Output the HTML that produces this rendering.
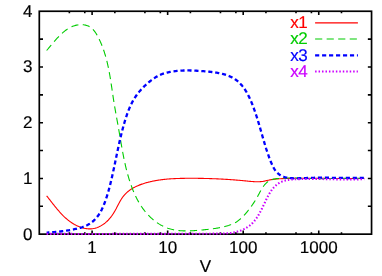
<!DOCTYPE html>
<html>
<head>
<meta charset="utf-8">
<title>chart</title>
<style>
html,body{margin:0;padding:0;background:#ffffff;}
body{width:382px;height:276px;overflow:hidden;}
svg{display:block;will-change:transform;}
text{text-rendering:geometricPrecision;stroke:#000;font-family:"Liberation Sans",sans-serif;font-size:17px;fill:#000;stroke-width:0.18px;}
</style>
</head>
<body>
<svg width="382" height="276" viewBox="0 0 382 276">
<rect x="0" y="0" width="382" height="276" fill="#ffffff"/>
<rect x="39.3" y="11.25" width="332.25" height="222.90" fill="none" stroke="#000" stroke-width="1.7"/>
<path d="M69.36,234.15 v-1.9 M69.36,11.25 v1.9 M84.78,234.15 v-1.9 M84.78,11.25 v1.9 M92.10,234.15 v-3.7 M92.10,11.25 v3.7 M114.85,234.15 v-1.9 M114.85,11.25 v1.9 M144.91,234.15 v-1.9 M144.91,11.25 v1.9 M160.33,234.15 v-1.9 M160.33,11.25 v1.9 M167.65,234.15 v-3.7 M167.65,11.25 v3.7 M190.39,234.15 v-1.9 M190.39,11.25 v1.9 M220.46,234.15 v-1.9 M220.46,11.25 v1.9 M235.88,234.15 v-1.9 M235.88,11.25 v1.9 M243.20,234.15 v-3.7 M243.20,11.25 v3.7 M265.94,234.15 v-1.9 M265.94,11.25 v1.9 M296.00,234.15 v-1.9 M296.00,11.25 v1.9 M311.42,234.15 v-1.9 M311.42,11.25 v1.9 M318.75,234.15 v-3.7 M318.75,11.25 v3.7 M341.49,234.15 v-1.9 M341.49,11.25 v1.9 M39.3,206.29 h3.7 M371.55,206.29 h-3.7 M39.3,178.43 h3.7 M371.55,178.43 h-3.7 M39.3,150.56 h3.7 M371.55,150.56 h-3.7 M39.3,122.70 h3.7 M371.55,122.70 h-3.7 M39.3,94.84 h3.7 M371.55,94.84 h-3.7 M39.3,66.97 h3.7 M371.55,66.97 h-3.7 M39.3,39.11 h3.7 M371.55,39.11 h-3.7" fill="none" stroke="#000" stroke-width="1.6"/>
<path d="M46.63,195.84 L47.06,196.37 L47.49,196.91 L47.92,197.46 L48.35,198.00 L48.78,198.55 L49.21,199.10 L49.64,199.65 L50.07,200.20 L50.50,200.76 L50.93,201.31 L51.37,201.87 L51.80,202.42 L52.23,202.98 L52.67,203.54 L53.11,204.09 L53.55,204.65 L53.99,205.21 L54.43,205.76 L54.88,206.31 L55.32,206.87 L55.77,207.42 L56.22,207.97 L56.67,208.51 L57.13,209.06 L57.59,209.60 L58.05,210.14 L58.51,210.68 L58.98,211.22 L59.45,211.75 L59.92,212.27 L60.40,212.80 L60.88,213.32 L61.36,213.83 L61.85,214.35 L62.34,214.85 L62.83,215.36 L63.33,215.85 L63.83,216.35 L64.34,216.83 L64.85,217.31 L65.37,217.79 L65.89,218.26 L66.42,218.72 L66.95,219.17 L67.48,219.62 L68.02,220.06 L68.57,220.50 L69.12,220.93 L69.68,221.35 L70.24,221.76 L70.81,222.16 L71.39,222.55 L71.97,222.94 L72.56,223.32 L73.15,223.69 L73.75,224.05 L74.36,224.40 L74.97,224.73 L75.59,225.06 L76.22,225.38 L76.85,225.69 L77.49,225.99 L78.14,226.28 L78.80,226.56 L79.46,226.82 L80.13,227.07 L80.81,227.31 L81.49,227.54 L82.17,227.75 L82.86,227.94 L83.55,228.12 L84.25,228.28 L84.95,228.43 L85.65,228.56 L86.35,228.66 L87.05,228.75 L87.76,228.82 L88.46,228.87 L89.16,228.90 L89.87,228.90 L90.57,228.89 L91.26,228.85 L91.96,228.78 L92.65,228.69 L93.34,228.58 L94.03,228.44 L94.71,228.29 L95.39,228.11 L96.06,227.91 L96.72,227.69 L97.38,227.45 L98.04,227.19 L98.69,226.92 L99.33,226.62 L99.96,226.31 L100.58,225.98 L101.20,225.64 L101.81,225.28 L102.41,224.91 L103.00,224.52 L103.58,224.12 L104.15,223.71 L104.71,223.29 L105.26,222.85 L105.79,222.40 L106.32,221.94 L106.84,221.48 L107.34,221.00 L107.84,220.51 L108.32,220.01 L108.80,219.50 L109.26,218.99 L109.72,218.46 L110.17,217.93 L110.61,217.38 L111.04,216.83 L111.46,216.27 L111.87,215.71 L112.28,215.13 L112.68,214.55 L113.07,213.96 L113.45,213.37 L113.83,212.76 L114.20,212.15 L114.56,211.54 L114.92,210.92 L115.27,210.29 L115.61,209.66 L115.96,209.03 L116.29,208.39 L116.63,207.75 L116.96,207.11 L117.30,206.47 L117.63,205.83 L117.96,205.19 L118.29,204.55 L118.63,203.91 L118.96,203.28 L119.30,202.64 L119.65,202.02 L119.99,201.39 L120.35,200.78 L120.71,200.17 L121.07,199.56 L121.45,198.96 L121.83,198.38 L122.22,197.80 L122.62,197.23 L123.03,196.67 L123.46,196.12 L123.89,195.59 L124.34,195.07 L124.79,194.56 L125.26,194.06 L125.74,193.57 L126.23,193.09 L126.74,192.63 L127.25,192.17 L127.77,191.73 L128.30,191.29 L128.84,190.87 L129.39,190.46 L129.95,190.06 L130.51,189.66 L131.09,189.28 L131.67,188.91 L132.26,188.55 L132.86,188.19 L133.46,187.85 L134.08,187.51 L134.69,187.18 L135.32,186.87 L135.95,186.56 L136.59,186.26 L137.23,185.96 L137.88,185.68 L138.53,185.40 L139.18,185.13 L139.85,184.87 L140.51,184.62 L141.18,184.37 L141.85,184.13 L142.53,183.90 L143.21,183.68 L143.89,183.46 L144.58,183.25 L145.26,183.04 L145.95,182.84 L146.64,182.65 L147.34,182.46 L148.03,182.28 L148.72,182.10 L149.42,181.93 L150.11,181.76 L150.81,181.60 L151.50,181.45 L152.20,181.30 L152.90,181.15 L153.59,181.01 L154.29,180.87 L154.98,180.74 L155.68,180.62 L156.38,180.49 L157.07,180.37 L157.77,180.26 L158.47,180.15 L159.16,180.05 L159.86,179.94 L160.56,179.85 L161.26,179.75 L161.95,179.66 L162.65,179.58 L163.35,179.49 L164.05,179.42 L164.75,179.34 L165.44,179.27 L166.14,179.20 L166.84,179.13 L167.54,179.07 L168.24,179.01 L168.94,178.96 L169.64,178.90 L170.34,178.85 L171.03,178.81 L171.73,178.76 L172.43,178.72 L173.13,178.68 L173.83,178.64 L174.53,178.61 L175.23,178.58 L175.93,178.55 L176.63,178.52 L177.33,178.49 L178.04,178.47 L178.74,178.45 L179.44,178.43 L180.14,178.41 L180.84,178.39 L181.54,178.38 L182.24,178.36 L182.94,178.35 L183.65,178.34 L184.35,178.33 L185.05,178.32 L185.75,178.31 L186.45,178.31 L187.16,178.30 L187.86,178.30 L188.56,178.29 L189.26,178.29 L189.97,178.29 L190.67,178.29 L191.37,178.29 L192.08,178.29 L192.78,178.29 L193.48,178.29 L194.19,178.30 L194.89,178.30 L195.60,178.30 L196.30,178.31 L197.00,178.32 L197.71,178.32 L198.41,178.33 L199.12,178.34 L199.82,178.35 L200.52,178.36 L201.23,178.37 L201.93,178.39 L202.64,178.40 L203.34,178.41 L204.05,178.43 L204.75,178.44 L205.46,178.46 L206.16,178.48 L206.87,178.50 L207.57,178.52 L208.28,178.54 L208.98,178.56 L209.69,178.58 L210.39,178.60 L211.10,178.63 L211.80,178.65 L212.51,178.68 L213.21,178.70 L213.92,178.73 L214.62,178.76 L215.33,178.79 L216.03,178.82 L216.74,178.85 L217.44,178.88 L218.15,178.91 L218.85,178.95 L219.56,178.98 L220.26,179.02 L220.97,179.05 L221.67,179.09 L222.38,179.13 L223.08,179.17 L223.79,179.21 L224.49,179.25 L225.20,179.29 L225.90,179.33 L226.61,179.37 L227.31,179.42 L228.02,179.47 L228.72,179.51 L229.42,179.56 L230.13,179.61 L230.83,179.66 L231.54,179.71 L232.24,179.76 L232.94,179.81 L233.65,179.86 L234.35,179.92 L235.05,179.97 L235.76,180.03 L236.46,180.08 L237.16,180.14 L237.87,180.20 L238.57,180.26 L239.27,180.32 L239.98,180.38 L240.68,180.45 L241.38,180.51 L242.08,180.57 L242.78,180.64 L243.49,180.71 L244.19,180.77 L244.89,180.84 L245.59,180.91 L246.29,180.98 L246.99,181.05 L247.69,181.12 L248.40,181.19 L249.10,181.26 L249.80,181.33 L250.50,181.40 L251.20,181.46 L251.90,181.52 L252.59,181.57 L253.29,181.62 L253.99,181.66 L254.69,181.69 L255.39,181.72 L256.09,181.74 L256.78,181.75 L257.48,181.76 L258.18,181.75 L258.87,181.73 L259.57,181.70 L260.26,181.65 L260.96,181.60 L261.65,181.53 L262.34,181.45 L263.04,181.35 L263.73,181.23 L264.42,181.10 L265.11,180.96 L265.80,180.81 L266.50,180.65 L267.19,180.49 L267.88,180.33 L268.57,180.18 L269.26,180.04 L269.96,179.90 L270.65,179.77 L271.35,179.65 L272.04,179.54 L272.74,179.44 L273.43,179.34 L274.13,179.25 L274.83,179.17 L275.53,179.10 L276.23,179.03 L276.92,178.97 L277.62,178.91 L278.32,178.86 L279.02,178.81 L279.72,178.76 L280.42,178.72 L281.13,178.69 L281.83,178.65 L282.53,178.62 L283.23,178.59 L283.93,178.57 L284.63,178.54 L285.34,178.52 L286.04,178.50 L286.74,178.47 L287.44,178.45 L288.15,178.44 L288.85,178.42 L289.55,178.40 L290.26,178.38 L290.96,178.37 L291.66,178.35 L292.36,178.34 L293.07,178.33 L293.77,178.32 L294.47,178.31 L295.18,178.30 L295.88,178.29 L296.59,178.28 L297.29,178.27 L297.99,178.26 L298.70,178.26 L299.40,178.25 L300.10,178.25 L300.81,178.24 L301.51,178.24 L302.22,178.24 L302.92,178.24 L303.63,178.23 L304.33,178.23 L305.03,178.23 L305.74,178.23 L306.44,178.23 L307.15,178.24 L307.85,178.24 L308.56,178.24 L309.26,178.24 L309.97,178.25 L310.67,178.25 L311.38,178.25 L312.08,178.26 L312.79,178.26 L313.49,178.27 L314.20,178.27 L314.90,178.28 L315.61,178.29 L316.31,178.29 L317.02,178.30 L317.72,178.31 L318.43,178.31 L319.13,178.32 L319.84,178.33 L320.54,178.34 L321.25,178.34 L321.95,178.35 L322.66,178.36 L323.36,178.37 L324.07,178.38 L324.78,178.39 L325.48,178.39 L326.19,178.40 L326.89,178.41 L327.60,178.42 L328.30,178.43 L329.01,178.44 L329.71,178.44 L330.42,178.45 L331.12,178.46 L331.83,178.47 L332.53,178.47 L333.24,178.48 L333.94,178.49 L334.65,178.50 L335.35,178.50 L336.06,178.51 L336.76,178.52 L337.47,178.52 L338.17,178.53 L338.88,178.53 L339.58,178.54 L340.29,178.54 L340.99,178.55 L341.70,178.55 L342.40,178.55 L343.11,178.56 L343.81,178.56 L344.52,178.56 L345.22,178.56 L345.93,178.57 L346.63,178.57 L347.34,178.57 L348.04,178.57 L348.74,178.56 L349.45,178.56 L350.15,178.56 L350.86,178.56 L351.56,178.55 L352.27,178.55 L352.97,178.54 L353.67,178.54 L354.38,178.53 L355.08,178.52 L355.78,178.52 L356.49,178.51 L357.19,178.50 L357.89,178.49 L358.60,178.48 L359.30,178.46 L360.00,178.45 L360.71,178.44 L361.41,178.42 L362.11,178.41 L362.82,178.39 L363.52,178.37 L364.22,178.35" fill="none" stroke="#ff0000" stroke-width="1.1"/>
<path d="M46.62,50.50 L47.29,49.74 L47.95,48.99 L48.61,48.23 L49.26,47.47 L49.90,46.71 L50.54,45.95 L51.18,45.20 L51.82,44.44 L52.45,43.68 L53.09,42.93 L53.73,42.17 L54.37,41.42 L55.01,40.68 L55.66,39.94 L56.32,39.20 L56.98,38.47 L57.64,37.74 L58.32,37.02 L59.00,36.31 L59.70,35.60 L60.40,34.90 L61.12,34.21 L61.85,33.53 L62.60,32.86 L63.35,32.20 L64.13,31.55 L64.91,30.92 L65.71,30.31 L66.53,29.73 L67.36,29.16 L68.20,28.62 L69.06,28.10 L69.94,27.61 L70.83,27.15 L71.73,26.73 L72.65,26.34 L73.59,25.98 L74.55,25.66 L75.52,25.39 L76.50,25.15 L77.51,24.96 L78.52,24.82 L79.55,24.72 L80.57,24.67 L81.60,24.66 L82.62,24.71 L83.62,24.81 L84.62,24.96 L85.59,25.16 L86.54,25.42 L87.46,25.73 L88.35,26.10 L89.20,26.53 L90.01,27.01 L90.79,27.55 L91.53,28.13 L92.25,28.76 L92.93,29.43 L93.58,30.13 L94.21,30.88 L94.81,31.65 L95.39,32.45 L95.94,33.28 L96.48,34.13 L96.99,35.00 L97.49,35.89 L97.97,36.79 L98.44,37.70 L98.90,38.61 L99.34,39.53 L99.77,40.45 L100.19,41.37 L100.60,42.29 L101.00,43.22 L101.39,44.15 L101.77,45.08 L102.14,46.01 L102.50,46.95 L102.85,47.88 L103.19,48.82 L103.53,49.76 L103.85,50.71 L104.17,51.65 L104.47,52.60 L104.77,53.55 L105.06,54.50 L105.35,55.45 L105.62,56.40 L105.89,57.36 L106.15,58.32 L106.41,59.27 L106.66,60.23 L106.90,61.20 L107.13,62.16 L107.36,63.12 L107.59,64.09 L107.81,65.05 L108.02,66.02 L108.23,66.99 L108.43,67.96 L108.63,68.93 L108.82,69.91 L109.01,70.88 L109.19,71.85 L109.37,72.83 L109.55,73.80 L109.72,74.78 L109.89,75.76 L110.06,76.74 L110.22,77.72 L110.38,78.70 L110.54,79.68 L110.70,80.66 L110.85,81.64 L111.00,82.62 L111.15,83.61 L111.30,84.59 L111.45,85.57 L111.60,86.56 L111.74,87.54 L111.89,88.53 L112.03,89.51 L112.17,90.50 L112.32,91.48 L112.46,92.47 L112.61,93.45 L112.75,94.44 L112.90,95.42 L113.05,96.41 L113.19,97.39 L113.34,98.38 L113.49,99.36 L113.65,100.35 L113.80,101.33 L113.96,102.31 L114.12,103.30 L114.28,104.28 L114.44,105.26 L114.61,106.24 L114.77,107.23 L114.94,108.21 L115.11,109.19 L115.28,110.17 L115.45,111.15 L115.63,112.13 L115.80,113.11 L115.98,114.09 L116.15,115.07 L116.33,116.05 L116.50,117.03 L116.68,118.01 L116.86,118.99 L117.03,119.97 L117.21,120.95 L117.39,121.93 L117.57,122.91 L117.74,123.89 L117.92,124.87 L118.09,125.85 L118.27,126.83 L118.44,127.81 L118.61,128.79 L118.78,129.77 L118.95,130.75 L119.12,131.73 L119.29,132.71 L119.46,133.69 L119.63,134.67 L119.79,135.65 L119.96,136.63 L120.13,137.61 L120.29,138.59 L120.46,139.56 L120.63,140.54 L120.79,141.52 L120.96,142.50 L121.13,143.48 L121.30,144.46 L121.47,145.44 L121.64,146.41 L121.82,147.39 L121.99,148.37 L122.17,149.34 L122.34,150.32 L122.52,151.29 L122.71,152.27 L122.89,153.24 L123.07,154.22 L123.26,155.19 L123.45,156.16 L123.65,157.14 L123.84,158.11 L124.04,159.08 L124.24,160.05 L124.45,161.02 L124.66,161.99 L124.87,162.96 L125.09,163.93 L125.31,164.89 L125.53,165.86 L125.76,166.83 L125.99,167.79 L126.22,168.76 L126.46,169.72 L126.71,170.68 L126.96,171.64 L127.21,172.60 L127.47,173.56 L127.74,174.52 L128.01,175.48 L128.28,176.44 L128.56,177.39 L128.85,178.35 L129.14,179.30 L129.44,180.25 L129.74,181.20 L130.05,182.15 L130.37,183.10 L130.69,184.05 L131.02,184.99 L131.36,185.93 L131.70,186.87 L132.05,187.81 L132.41,188.75 L132.78,189.68 L133.15,190.60 L133.54,191.53 L133.93,192.45 L134.33,193.36 L134.73,194.28 L135.15,195.18 L135.57,196.09 L136.01,196.98 L136.45,197.87 L136.90,198.76 L137.36,199.64 L137.84,200.52 L138.32,201.39 L138.81,202.25 L139.31,203.10 L139.82,203.95 L140.35,204.79 L140.88,205.63 L141.42,206.46 L141.98,207.28 L142.55,208.09 L143.12,208.89 L143.71,209.68 L144.32,210.47 L144.93,211.25 L145.55,212.01 L146.19,212.77 L146.84,213.52 L147.51,214.26 L148.18,214.99 L148.87,215.71 L149.57,216.41 L150.29,217.11 L151.02,217.79 L151.76,218.47 L152.51,219.13 L153.27,219.77 L154.05,220.41 L154.83,221.02 L155.63,221.63 L156.44,222.21 L157.25,222.79 L158.08,223.34 L158.92,223.88 L159.77,224.40 L160.63,224.90 L161.49,225.38 L162.37,225.85 L163.25,226.29 L164.14,226.71 L165.04,227.11 L165.95,227.49 L166.87,227.85 L167.79,228.19 L168.72,228.50 L169.65,228.79 L170.60,229.06 L171.55,229.31 L172.50,229.53 L173.46,229.74 L174.43,229.93 L175.40,230.10 L176.37,230.25 L177.35,230.38 L178.33,230.50 L179.32,230.60 L180.31,230.69 L181.31,230.76 L182.30,230.81 L183.30,230.86 L184.31,230.89 L185.31,230.90 L186.32,230.91 L187.33,230.90 L188.34,230.89 L189.35,230.86 L190.36,230.83 L191.37,230.79 L192.38,230.74 L193.39,230.68 L194.40,230.61 L195.41,230.54 L196.42,230.47 L197.43,230.39 L198.43,230.30 L199.44,230.22 L200.44,230.13 L201.44,230.03 L202.44,229.94 L203.43,229.84 L204.42,229.75 L205.41,229.65 L206.40,229.55 L207.38,229.44 L208.36,229.33 L209.34,229.22 L210.32,229.10 L211.30,228.98 L212.27,228.85 L213.24,228.72 L214.22,228.58 L215.19,228.43 L216.15,228.28 L217.12,228.12 L218.09,227.95 L219.06,227.77 L220.02,227.59 L220.99,227.39 L221.95,227.18 L222.92,226.96 L223.89,226.74 L224.85,226.50 L225.82,226.24 L226.78,225.98 L227.74,225.70 L228.70,225.40 L229.64,225.08 L230.58,224.74 L231.51,224.38 L232.43,224.00 L233.34,223.59 L234.23,223.15 L235.10,222.69 L235.96,222.19 L236.80,221.67 L237.61,221.11 L238.42,220.53 L239.20,219.92 L239.97,219.29 L240.72,218.64 L241.46,217.97 L242.19,217.28 L242.90,216.57 L243.59,215.85 L244.28,215.11 L244.95,214.36 L245.61,213.61 L246.26,212.84 L246.90,212.07 L247.52,211.29 L248.14,210.51 L248.75,209.73 L249.36,208.95 L249.95,208.17 L250.54,207.39 L251.11,206.60 L251.68,205.81 L252.25,205.01 L252.80,204.21 L253.35,203.40 L253.89,202.59 L254.43,201.77 L254.96,200.94 L255.48,200.10 L255.99,199.25 L256.50,198.39 L257.00,197.52 L257.50,196.64 L257.99,195.74 L258.48,194.84 L258.97,193.92 L259.45,193.01 L259.94,192.10 L260.44,191.19 L260.95,190.29 L261.46,189.40 L261.99,188.52 L262.53,187.66 L263.08,186.83 L263.66,186.01 L264.26,185.23 L264.88,184.48 L265.52,183.76 L266.20,183.09 L266.90,182.45 L267.64,181.86 L268.41,181.32 L269.22,180.83 L270.05,180.40 L270.92,180.01 L271.82,179.67 L272.75,179.39 L273.69,179.15 L274.66,178.95 L275.64,178.79 L276.63,178.66 L277.63,178.56 L278.63,178.47 L279.63,178.39 L280.64,178.32 L281.64,178.26 L282.64,178.21 L283.64,178.17 L284.64,178.13 L285.65,178.10 L286.65,178.08 L287.64,178.06 L288.64,178.05 L289.64,178.05 L290.64,178.05 L291.64,178.05 L292.64,178.06 L293.63,178.07 L294.63,178.09 L295.63,178.11 L296.62,178.13 L297.62,178.16 L298.61,178.19 L299.61,178.21 L300.60,178.24 L301.60,178.27 L302.59,178.31 L303.59,178.34 L304.58,178.37 L305.58,178.40 L306.57,178.43 L307.56,178.46 L308.56,178.48 L309.55,178.51 L310.55,178.53 L311.54,178.55 L312.53,178.56 L313.53,178.58 L314.52,178.59 L315.51,178.60 L316.51,178.60 L317.50,178.61 L318.50,178.61 L319.49,178.61 L320.48,178.61 L321.48,178.61 L322.47,178.60 L323.46,178.60 L324.46,178.59 L325.45,178.58 L326.44,178.57 L327.44,178.56 L328.43,178.55 L329.42,178.54 L330.42,178.53 L331.41,178.52 L332.41,178.50 L333.40,178.49 L334.39,178.47 L335.39,178.46 L336.38,178.45 L337.37,178.43 L338.37,178.42 L339.36,178.40 L340.36,178.39 L341.35,178.38 L342.34,178.36 L343.34,178.35 L344.33,178.34 L345.33,178.33 L346.32,178.32 L347.32,178.32 L348.31,178.31 L349.30,178.31 L350.30,178.30 L351.29,178.30 L352.29,178.30 L353.28,178.30 L354.28,178.31 L355.27,178.31 L356.27,178.32 L357.26,178.33 L358.26,178.34 L359.25,178.35 L360.25,178.37 L361.24,178.39 L362.24,178.41 L363.24,178.44 L364.23,178.47" fill="none" stroke="#00cc00" stroke-width="1.1" stroke-dasharray="7.16 4.38" stroke-dashoffset="0"/>
<path d="M46.63,232.62 L47.60,232.56 L48.56,232.50 L49.53,232.43 L50.50,232.37 L51.46,232.30 L52.43,232.22 L53.40,232.15 L54.36,232.06 L55.33,231.98 L56.29,231.89 L57.26,231.80 L58.22,231.70 L59.18,231.60 L60.15,231.49 L61.11,231.38 L62.07,231.26 L63.03,231.13 L63.99,231.01 L64.95,230.87 L65.91,230.73 L66.87,230.59 L67.83,230.43 L68.78,230.28 L69.74,230.11 L70.70,229.94 L71.65,229.76 L72.61,229.58 L73.56,229.39 L74.52,229.19 L75.47,228.98 L76.42,228.77 L77.37,228.55 L78.32,228.31 L79.27,228.07 L80.21,227.81 L81.14,227.54 L82.07,227.25 L82.99,226.94 L83.90,226.61 L84.81,226.26 L85.69,225.89 L86.57,225.49 L87.44,225.06 L88.28,224.60 L89.12,224.11 L89.93,223.59 L90.73,223.05 L91.51,222.47 L92.28,221.88 L93.02,221.25 L93.74,220.61 L94.45,219.94 L95.13,219.25 L95.79,218.54 L96.43,217.82 L97.04,217.07 L97.63,216.31 L98.20,215.54 L98.75,214.75 L99.28,213.95 L99.80,213.13 L100.29,212.30 L100.76,211.46 L101.22,210.61 L101.67,209.75 L102.10,208.87 L102.51,207.99 L102.91,207.11 L103.30,206.21 L103.67,205.31 L104.04,204.40 L104.39,203.49 L104.74,202.58 L105.08,201.66 L105.40,200.74 L105.73,199.81 L106.04,198.89 L106.35,197.96 L106.65,197.04 L106.95,196.11 L107.24,195.18 L107.52,194.25 L107.80,193.32 L108.08,192.39 L108.35,191.46 L108.61,190.52 L108.87,189.59 L109.13,188.65 L109.38,187.72 L109.62,186.78 L109.87,185.84 L110.11,184.90 L110.34,183.96 L110.57,183.02 L110.80,182.08 L111.03,181.14 L111.25,180.20 L111.47,179.26 L111.69,178.31 L111.91,177.37 L112.12,176.43 L112.33,175.48 L112.54,174.54 L112.75,173.59 L112.96,172.65 L113.17,171.70 L113.37,170.75 L113.58,169.81 L113.78,168.86 L113.98,167.91 L114.18,166.96 L114.38,166.01 L114.58,165.07 L114.78,164.12 L114.98,163.17 L115.17,162.22 L115.37,161.27 L115.57,160.32 L115.77,159.37 L115.96,158.42 L116.16,157.47 L116.36,156.52 L116.56,155.57 L116.76,154.63 L116.95,153.68 L117.15,152.73 L117.35,151.78 L117.55,150.83 L117.76,149.88 L117.96,148.93 L118.16,147.98 L118.37,147.04 L118.57,146.09 L118.78,145.14 L118.99,144.19 L119.20,143.25 L119.42,142.30 L119.63,141.35 L119.85,140.41 L120.06,139.46 L120.29,138.52 L120.51,137.57 L120.73,136.63 L120.96,135.68 L121.19,134.74 L121.42,133.80 L121.66,132.86 L121.90,131.91 L122.14,130.97 L122.38,130.03 L122.63,129.09 L122.88,128.16 L123.13,127.22 L123.39,126.28 L123.65,125.34 L123.91,124.41 L124.18,123.47 L124.45,122.54 L124.73,121.60 L125.01,120.67 L125.29,119.74 L125.58,118.81 L125.87,117.88 L126.17,116.96 L126.48,116.03 L126.79,115.11 L127.11,114.20 L127.43,113.28 L127.77,112.37 L128.11,111.46 L128.46,110.56 L128.81,109.66 L129.18,108.76 L129.55,107.87 L129.94,106.98 L130.33,106.10 L130.74,105.22 L131.15,104.35 L131.58,103.49 L132.02,102.63 L132.47,101.78 L132.93,100.93 L133.41,100.09 L133.89,99.26 L134.39,98.44 L134.91,97.62 L135.43,96.81 L135.98,96.01 L136.53,95.22 L137.10,94.44 L137.68,93.66 L138.28,92.90 L138.89,92.14 L139.51,91.39 L140.14,90.65 L140.78,89.92 L141.44,89.19 L142.11,88.48 L142.78,87.78 L143.47,87.08 L144.16,86.39 L144.87,85.72 L145.58,85.05 L146.31,84.39 L147.04,83.75 L147.78,83.11 L148.53,82.48 L149.28,81.86 L150.04,81.26 L150.81,80.66 L151.59,80.08 L152.37,79.50 L153.16,78.94 L153.96,78.40 L154.77,77.87 L155.59,77.35 L156.41,76.86 L157.25,76.38 L158.10,75.92 L158.96,75.48 L159.83,75.07 L160.71,74.67 L161.61,74.30 L162.51,73.95 L163.43,73.63 L164.36,73.32 L165.30,73.04 L166.24,72.78 L167.19,72.54 L168.15,72.31 L169.11,72.11 L170.08,71.92 L171.04,71.74 L172.01,71.58 L172.98,71.43 L173.94,71.29 L174.90,71.17 L175.86,71.06 L176.82,70.95 L177.78,70.86 L178.73,70.78 L179.69,70.71 L180.64,70.64 L181.59,70.59 L182.54,70.55 L183.49,70.51 L184.44,70.48 L185.39,70.46 L186.34,70.45 L187.29,70.45 L188.24,70.45 L189.19,70.46 L190.14,70.48 L191.10,70.50 L192.05,70.53 L193.01,70.56 L193.97,70.60 L194.93,70.65 L195.89,70.70 L196.86,70.75 L197.83,70.81 L198.80,70.87 L199.77,70.93 L200.75,71.00 L201.73,71.07 L202.72,71.15 L203.70,71.22 L204.70,71.30 L205.69,71.38 L206.69,71.47 L207.69,71.56 L208.69,71.66 L209.69,71.76 L210.69,71.87 L211.68,71.99 L212.68,72.11 L213.68,72.25 L214.67,72.39 L215.66,72.54 L216.64,72.70 L217.63,72.88 L218.60,73.06 L219.57,73.26 L220.54,73.46 L221.50,73.69 L222.45,73.92 L223.39,74.17 L224.33,74.43 L225.25,74.71 L226.17,75.01 L227.07,75.32 L227.97,75.65 L228.85,76.00 L229.72,76.37 L230.58,76.75 L231.43,77.16 L232.26,77.58 L233.08,78.03 L233.88,78.49 L234.67,78.98 L235.44,79.50 L236.20,80.03 L236.94,80.59 L237.66,81.17 L238.36,81.78 L239.05,82.41 L239.72,83.05 L240.37,83.72 L241.01,84.41 L241.63,85.12 L242.24,85.85 L242.83,86.60 L243.41,87.36 L243.98,88.14 L244.53,88.93 L245.07,89.74 L245.59,90.56 L246.10,91.39 L246.60,92.24 L247.09,93.10 L247.57,93.97 L248.03,94.84 L248.49,95.73 L248.93,96.62 L249.37,97.53 L249.79,98.43 L250.21,99.35 L250.61,100.27 L251.01,101.19 L251.40,102.12 L251.78,103.05 L252.15,103.98 L252.52,104.91 L252.88,105.84 L253.23,106.77 L253.58,107.70 L253.92,108.63 L254.25,109.56 L254.58,110.48 L254.90,111.41 L255.22,112.33 L255.54,113.25 L255.85,114.17 L256.15,115.09 L256.45,116.01 L256.75,116.93 L257.04,117.85 L257.33,118.76 L257.61,119.68 L257.90,120.59 L258.18,121.51 L258.45,122.42 L258.73,123.34 L259.00,124.25 L259.27,125.17 L259.54,126.08 L259.80,126.99 L260.07,127.91 L260.33,128.82 L260.60,129.74 L260.86,130.65 L261.12,131.57 L261.39,132.48 L261.65,133.40 L261.91,134.31 L262.17,135.23 L262.44,136.15 L262.70,137.07 L262.97,137.99 L263.23,138.91 L263.50,139.83 L263.77,140.75 L264.05,141.68 L264.32,142.61 L264.60,143.53 L264.88,144.46 L265.16,145.39 L265.44,146.32 L265.73,147.25 L266.03,148.18 L266.32,149.12 L266.63,150.05 L266.93,150.99 L267.24,151.92 L267.56,152.85 L267.88,153.79 L268.20,154.72 L268.53,155.66 L268.87,156.59 L269.21,157.53 L269.56,158.46 L269.92,159.40 L270.28,160.33 L270.65,161.27 L271.03,162.20 L271.42,163.12 L271.82,164.05 L272.23,164.96 L272.66,165.86 L273.10,166.74 L273.57,167.61 L274.05,168.45 L274.56,169.28 L275.09,170.07 L275.64,170.84 L276.22,171.58 L276.84,172.28 L277.48,172.94 L278.16,173.57 L278.87,174.15 L279.62,174.69 L280.39,175.19 L281.20,175.65 L282.03,176.06 L282.89,176.44 L283.77,176.78 L284.67,177.08 L285.59,177.35 L286.52,177.58 L287.47,177.77 L288.43,177.93 L289.40,178.05 L290.37,178.15 L291.36,178.21 L292.34,178.26 L293.33,178.29 L294.32,178.31 L295.31,178.31 L296.30,178.31 L297.28,178.30 L298.26,178.29 L299.24,178.27 L300.22,178.24 L301.20,178.21 L302.17,178.18 L303.15,178.15 L304.12,178.11 L305.09,178.07 L306.06,178.03 L307.03,178.00 L308.00,177.96 L308.97,177.92 L309.94,177.89 L310.91,177.86 L311.88,177.83 L312.85,177.81 L313.81,177.79 L314.78,177.77 L315.75,177.76 L316.72,177.74 L317.69,177.73 L318.66,177.73 L319.63,177.72 L320.59,177.72 L321.56,177.71 L322.53,177.71 L323.50,177.72 L324.47,177.72 L325.44,177.72 L326.40,177.73 L327.37,177.74 L328.34,177.75 L329.31,177.76 L330.28,177.77 L331.25,177.78 L332.22,177.79 L333.18,177.80 L334.15,177.82 L335.12,177.83 L336.09,177.85 L337.06,177.86 L338.03,177.87 L339.00,177.89 L339.97,177.90 L340.94,177.92 L341.90,177.93 L342.87,177.94 L343.84,177.96 L344.81,177.97 L345.78,177.98 L346.75,177.99 L347.72,178.00 L348.69,178.00 L349.66,178.01 L350.63,178.01 L351.60,178.02 L352.57,178.02 L353.54,178.02 L354.52,178.02 L355.49,178.01 L356.46,178.00 L357.43,178.00 L358.40,177.98 L359.37,177.97 L360.34,177.95 L361.32,177.94 L362.29,177.91 L363.26,177.89 L364.23,177.86" fill="none" stroke="#0000ff" stroke-width="2.3" stroke-dasharray="4.15 2.82" stroke-dashoffset="1.4"/>
<path d="M46.59,233.88 L47.28,233.89 L47.98,233.89 L48.67,233.89 L49.36,233.89 L50.05,233.89 L50.74,233.89 L51.43,233.89 L52.12,233.90 L52.81,233.90 L53.50,233.90 L54.19,233.90 L54.88,233.90 L55.57,233.90 L56.26,233.90 L56.95,233.90 L57.64,233.91 L58.33,233.91 L59.02,233.91 L59.71,233.91 L60.40,233.91 L61.09,233.91 L61.78,233.91 L62.47,233.91 L63.15,233.91 L63.84,233.91 L64.53,233.92 L65.22,233.92 L65.91,233.92 L66.60,233.92 L67.29,233.92 L67.98,233.92 L68.66,233.92 L69.35,233.92 L70.04,233.92 L70.73,233.92 L71.42,233.92 L72.11,233.92 L72.79,233.92 L73.48,233.93 L74.17,233.93 L74.86,233.93 L75.55,233.93 L76.23,233.93 L76.92,233.93 L77.61,233.93 L78.30,233.93 L78.98,233.93 L79.67,233.93 L80.36,233.93 L81.05,233.93 L81.73,233.93 L82.42,233.93 L83.11,233.93 L83.80,233.93 L84.48,233.93 L85.17,233.93 L85.86,233.93 L86.54,233.93 L87.23,233.93 L87.92,233.93 L88.61,233.93 L89.29,233.93 L89.98,233.93 L90.67,233.93 L91.35,233.93 L92.04,233.93 L92.73,233.93 L93.41,233.93 L94.10,233.93 L94.79,233.93 L95.47,233.93 L96.16,233.93 L96.84,233.93 L97.53,233.93 L98.22,233.93 L98.90,233.93 L99.59,233.93 L100.28,233.93 L100.96,233.93 L101.65,233.93 L102.33,233.93 L103.02,233.93 L103.71,233.93 L104.39,233.93 L105.08,233.93 L105.76,233.93 L106.45,233.93 L107.14,233.93 L107.82,233.93 L108.51,233.93 L109.19,233.93 L109.88,233.93 L110.57,233.93 L111.25,233.92 L111.94,233.92 L112.62,233.92 L113.31,233.92 L114.00,233.92 L114.68,233.92 L115.37,233.92 L116.05,233.92 L116.74,233.92 L117.42,233.92 L118.11,233.92 L118.79,233.92 L119.48,233.92 L120.17,233.92 L120.85,233.91 L121.54,233.91 L122.22,233.91 L122.91,233.91 L123.59,233.91 L124.28,233.91 L124.97,233.91 L125.65,233.91 L126.34,233.91 L127.02,233.91 L127.71,233.91 L128.39,233.90 L129.08,233.90 L129.76,233.90 L130.45,233.90 L131.14,233.90 L131.82,233.90 L132.51,233.90 L133.19,233.90 L133.88,233.90 L134.56,233.89 L135.25,233.89 L135.94,233.89 L136.62,233.89 L137.31,233.89 L137.99,233.89 L138.68,233.89 L139.36,233.89 L140.05,233.88 L140.74,233.88 L141.42,233.88 L142.11,233.88 L142.79,233.88 L143.48,233.88 L144.16,233.88 L144.85,233.88 L145.54,233.87 L146.22,233.87 L146.91,233.87 L147.59,233.87 L148.28,233.87 L148.97,233.87 L149.65,233.87 L150.34,233.86 L151.02,233.86 L151.71,233.86 L152.40,233.86 L153.08,233.86 L153.77,233.86 L154.46,233.85 L155.14,233.85 L155.83,233.85 L156.51,233.85 L157.20,233.85 L157.89,233.85 L158.57,233.84 L159.26,233.84 L159.95,233.84 L160.63,233.84 L161.32,233.84 L162.01,233.84 L162.69,233.83 L163.38,233.83 L164.07,233.83 L164.75,233.83 L165.44,233.83 L166.13,233.82 L166.81,233.82 L167.50,233.82 L168.19,233.82 L168.87,233.82 L169.56,233.82 L170.25,233.81 L170.94,233.81 L171.62,233.81 L172.31,233.81 L173.00,233.81 L173.69,233.80 L174.37,233.80 L175.06,233.80 L175.75,233.80 L176.44,233.80 L177.12,233.79 L177.81,233.79 L178.50,233.79 L179.19,233.79 L179.88,233.79 L180.56,233.78 L181.25,233.78 L181.94,233.78 L182.63,233.78 L183.32,233.77 L184.00,233.77 L184.69,233.77 L185.38,233.77 L186.07,233.77 L186.76,233.76 L187.45,233.76 L188.14,233.76 L188.83,233.76 L189.51,233.75 L190.20,233.75 L190.89,233.75 L191.58,233.75 L192.27,233.75 L192.96,233.74 L193.65,233.74 L194.34,233.74 L195.03,233.74 L195.72,233.73 L196.41,233.73 L197.10,233.73 L197.79,233.73 L198.48,233.72 L199.17,233.72 L199.86,233.72 L200.55,233.72 L201.24,233.71 L201.93,233.71 L202.62,233.71 L203.31,233.71 L204.00,233.71 L204.69,233.70 L205.38,233.70 L206.07,233.70 L206.76,233.70 L207.45,233.69 L208.15,233.69 L208.84,233.69 L209.53,233.69 L210.22,233.68 L210.91,233.68 L211.60,233.68 L212.29,233.68 L212.99,233.67 L213.68,233.67 L214.37,233.67 L215.06,233.66 L215.75,233.66 L216.45,233.66 L217.14,233.66 L217.83,233.65 L218.52,233.64 L219.22,233.64 L219.91,233.63 L220.60,233.61 L221.29,233.60 L221.98,233.58 L222.67,233.56 L223.36,233.54 L224.04,233.51 L224.73,233.47 L225.42,233.43 L226.10,233.39 L226.79,233.34 L227.47,233.29 L228.15,233.23 L228.83,233.16 L229.51,233.09 L230.19,233.01 L230.86,232.92 L231.54,232.82 L232.21,232.72 L232.88,232.61 L233.55,232.48 L234.22,232.35 L234.88,232.21 L235.54,232.06 L236.21,231.90 L236.86,231.73 L237.52,231.55 L238.18,231.36 L238.83,231.16 L239.48,230.94 L240.12,230.71 L240.77,230.48 L241.41,230.23 L242.04,229.96 L242.67,229.69 L243.30,229.40 L243.92,229.11 L244.53,228.80 L245.14,228.48 L245.74,228.15 L246.33,227.80 L246.92,227.45 L247.50,227.08 L248.07,226.70 L248.64,226.31 L249.19,225.91 L249.73,225.50 L250.27,225.07 L250.79,224.64 L251.31,224.19 L251.81,223.73 L252.30,223.26 L252.78,222.78 L253.25,222.28 L253.71,221.78 L254.16,221.26 L254.60,220.74 L255.02,220.20 L255.44,219.66 L255.85,219.11 L256.25,218.56 L256.64,217.99 L257.02,217.42 L257.40,216.85 L257.76,216.27 L258.12,215.68 L258.48,215.09 L258.83,214.50 L259.17,213.91 L259.50,213.31 L259.83,212.71 L260.16,212.10 L260.48,211.50 L260.80,210.89 L261.11,210.28 L261.42,209.67 L261.72,209.05 L262.03,208.44 L262.33,207.82 L262.63,207.20 L262.92,206.58 L263.22,205.96 L263.52,205.34 L263.81,204.72 L264.10,204.09 L264.40,203.47 L264.69,202.85 L264.99,202.22 L265.28,201.59 L265.58,200.97 L265.88,200.34 L266.18,199.71 L266.49,199.09 L266.80,198.46 L267.11,197.83 L267.43,197.21 L267.75,196.58 L268.07,195.96 L268.40,195.35 L268.74,194.73 L269.08,194.13 L269.43,193.52 L269.79,192.93 L270.16,192.34 L270.53,191.75 L270.91,191.18 L271.30,190.61 L271.70,190.05 L272.11,189.50 L272.54,188.96 L272.97,188.43 L273.41,187.92 L273.87,187.41 L274.34,186.92 L274.81,186.44 L275.30,185.97 L275.81,185.52 L276.32,185.08 L276.84,184.66 L277.38,184.25 L277.92,183.86 L278.47,183.48 L279.04,183.12 L279.61,182.78 L280.19,182.46 L280.79,182.15 L281.39,181.86 L282.00,181.60 L282.61,181.35 L283.24,181.12 L283.88,180.91 L284.52,180.72 L285.17,180.54 L285.82,180.38 L286.48,180.24 L287.15,180.11 L287.82,179.99 L288.50,179.88 L289.18,179.79 L289.86,179.70 L290.55,179.62 L291.24,179.56 L291.93,179.50 L292.63,179.45 L293.32,179.40 L294.02,179.36 L294.72,179.32 L295.42,179.28 L296.11,179.25 L296.81,179.22 L297.51,179.19 L298.20,179.16 L298.90,179.14 L299.59,179.11 L300.29,179.09 L300.98,179.07 L301.68,179.05 L302.37,179.04 L303.06,179.02 L303.76,179.01 L304.45,178.99 L305.14,178.98 L305.83,178.97 L306.53,178.96 L307.22,178.96 L307.91,178.95 L308.60,178.95 L309.29,178.94 L309.98,178.94 L310.67,178.94 L311.36,178.94 L312.05,178.94 L312.74,178.94 L313.42,178.95 L314.11,178.95 L314.80,178.95 L315.49,178.96 L316.18,178.97 L316.86,178.97 L317.55,178.98 L318.24,178.99 L318.92,179.00 L319.61,179.01 L320.30,179.02 L320.98,179.03 L321.67,179.04 L322.35,179.05 L323.04,179.07 L323.73,179.08 L324.41,179.09 L325.10,179.11 L325.78,179.12 L326.47,179.13 L327.15,179.15 L327.84,179.16 L328.52,179.18 L329.21,179.19 L329.89,179.21 L330.58,179.22 L331.26,179.24 L331.95,179.25 L332.63,179.27 L333.32,179.28 L334.00,179.29 L334.69,179.31 L335.37,179.32 L336.05,179.33 L336.74,179.35 L337.42,179.36 L338.11,179.37 L338.79,179.38 L339.48,179.40 L340.16,179.41 L340.85,179.42 L341.53,179.43 L342.22,179.43 L342.90,179.44 L343.59,179.45 L344.27,179.46 L344.96,179.46 L345.65,179.47 L346.33,179.47 L347.02,179.47 L347.70,179.48 L348.39,179.48 L349.08,179.48 L349.76,179.48 L350.45,179.48 L351.14,179.47 L351.82,179.47 L352.51,179.46 L353.20,179.46 L353.89,179.45 L354.58,179.44 L355.26,179.43 L355.95,179.42 L356.64,179.40 L357.33,179.39 L358.02,179.37 L358.71,179.35 L359.40,179.33 L360.09,179.31 L360.78,179.29 L361.47,179.26 L362.16,179.23 L362.86,179.21 L363.55,179.18 L364.24,179.14" fill="none" stroke="#cc00ff" stroke-width="2.1" stroke-dasharray="1.5 1.96" stroke-dashoffset="0"/>
<path d="M315.1,22.9 L357.9,22.9" fill="none" stroke="#ff0000" stroke-width="1.1"/>
<text x="307.5" y="28.3" text-anchor="end" letter-spacing="-0.3" style="fill:#ff0000;stroke:#ff0000">x1</text>
<path d="M315.1,39.05 L357.9,39.05" fill="none" stroke="#00cc00" stroke-width="1.1" stroke-dasharray="7.16 4.38"/>
<text x="307.5" y="44.4" text-anchor="end" letter-spacing="-0.3" style="fill:#00cc00;stroke:#00cc00">x2</text>
<path d="M315.1,55.45 L357.9,55.45" fill="none" stroke="#0000ff" stroke-width="2.3" stroke-dasharray="4.15 2.82"/>
<text x="307.5" y="60.5" text-anchor="end" letter-spacing="-0.3" style="fill:#0000ff;stroke:#0000ff">x3</text>
<path d="M315.1,71.45 L357.9,71.45" fill="none" stroke="#cc00ff" stroke-width="2.1" stroke-dasharray="1.5 1.96"/>
<text x="307.5" y="76.6" text-anchor="end" letter-spacing="-0.3" style="fill:#cc00ff;stroke:#cc00ff">x4</text>
<text x="32.5" y="239.55" text-anchor="end">0</text>
<text x="32.5" y="183.83" text-anchor="end">1</text>
<text x="32.5" y="128.10" text-anchor="end">2</text>
<text x="32.5" y="72.38" text-anchor="end">3</text>
<text x="32.5" y="16.65" text-anchor="end">4</text>
<text x="92.10" y="252.8" text-anchor="middle">1</text>
<text x="167.65" y="252.8" text-anchor="middle">10</text>
<text x="243.20" y="252.8" text-anchor="middle">100</text>
<text x="318.75" y="252.8" text-anchor="middle">1000</text>
<text x="205.43" y="272.2" text-anchor="middle">V</text>
</svg>
</body>
</html>
